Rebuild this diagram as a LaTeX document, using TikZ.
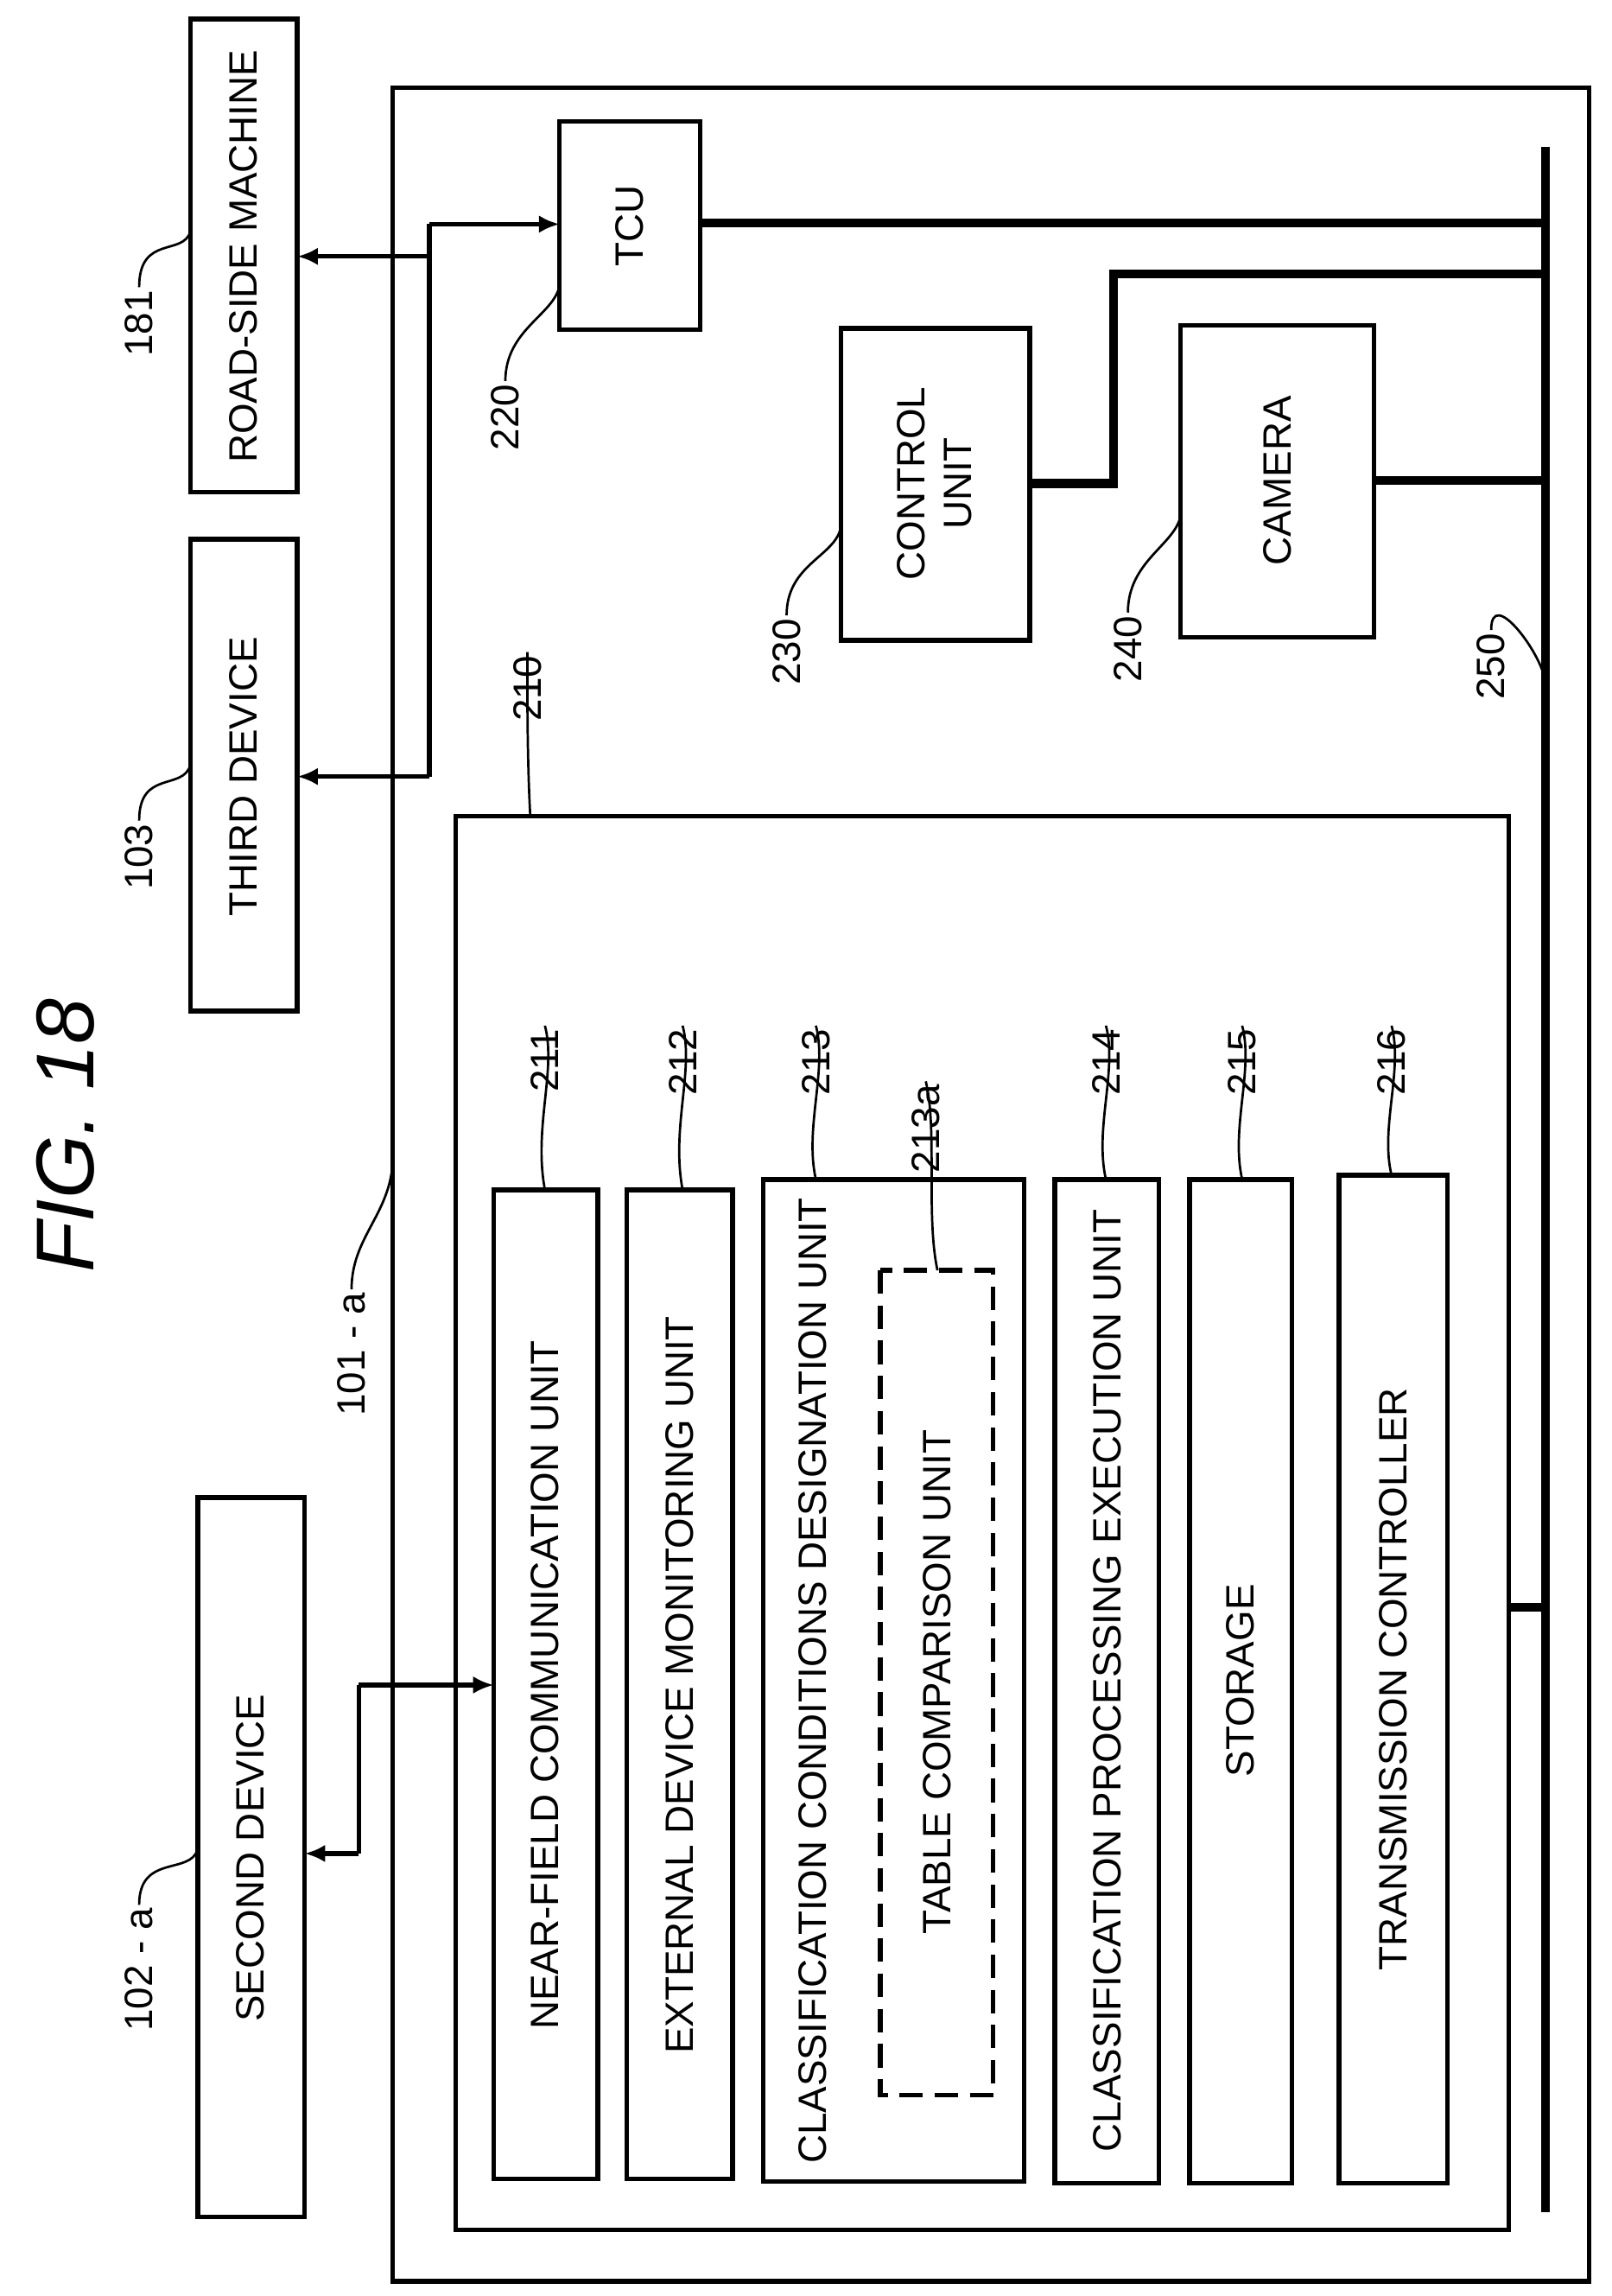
\documentclass[tikz,border=0pt]{standalone}
\usepackage{fontspec}
\setmainfont{Liberation Sans}
\usetikzlibrary{arrows.meta}
\begin{document}
\begin{tikzpicture}[x=0.5pt,y=-0.5pt,
 box/.style={draw,line width=1.6pt},
 txt/.style={rotate=90,font=\fontsize{13.5}{16}\selectfont,align=center,inner sep=0},
 lbl/.style={rotate=90,font=\fontsize{13.5}{16}\selectfont,inner sep=1pt},
 lead/.style={line width=0.8pt},
 bus/.style={line width=3pt},
 arr/.style={line width=1.6pt,-{Latex[length=7pt,width=6pt]}}]
\useasboundingbox (0,0) rectangle (1100,1567);
\node[rotate=90,font=\fontsize{28}{32}\selectfont\itshape] (fig) at (45,775) {FIG. 18};
% outer boxes
\draw[box] (268,60) rectangle (1085,1557);
\draw[box] (311,557) rectangle (1030,1522);
% external devices
\draw[box] (130,13) rectangle (203,336); \node[txt] (rsm) at (166,175) {ROAD-SIDE MACHINE};
\draw[box] (130,368) rectangle (203,690); \node[txt] (td) at (166,530) {THIRD DEVICE};
\draw[box] (135,1022) rectangle (208,1513); \node[txt] (sd) at (171,1268) {SECOND DEVICE};
% TCU etc
\draw[box] (382,83) rectangle (478,225); \node[txt] (tcu) at (430,154) {TCU};
\draw[box] (574,224) rectangle (703,437); \node[txt] (cu) at (638,330) {CONTROL\\UNIT};
\draw[box] (806,222) rectangle (938,435); \node[txt] (cam) at (872,328) {CAMERA};
% bus
\draw[bus] (1055,100) -- (1055,1510);
\draw[bus] (478,152) -- (1055,152);
\draw[bus] (703,330) -- (760,330) -- (760,187) -- (1055,187);
\draw[bus] (938,328) -- (1055,328);
\draw[bus] (1030,1097) -- (1055,1097);
% units
\draw[box] (337,812) rectangle (408,1487); \node[txt] (u211) at (372,1150) {NEAR-FIELD COMMUNICATION UNIT};
\draw[box] (428,812) rectangle (500,1487); \node[txt] (u212) at (464,1150) {EXTERNAL DEVICE MONITORING UNIT};
\draw[box] (521,805) rectangle (699,1489); \node[txt] (u213) at (555,1147) {CLASSIFICATION CONDITIONS DESIGNATION UNIT};
\draw[box,dashed,dash pattern=on 8pt off 4pt] (601,867) rectangle (678,1430); \node[txt] (u213a) at (640,1148) {TABLE COMPARISON UNIT};
\draw[box] (720,805) rectangle (791,1490); \node[txt] (u214) at (756,1147) {CLASSIFICATION PROCESSING EXECUTION UNIT};
\draw[box] (812,805) rectangle (882,1490); \node[txt] (u215) at (847,1147) {STORAGE};
\draw[box] (914,802) rectangle (988,1490); \node[txt] (u216) at (951,1146) {TRANSMISSION CONTROLLER};
% arrows
\coordinate (j1) at (293,153); \coordinate (j2) at (293,530);
\draw[line width=1.6pt] (j1) -- (j2);
\draw[arr] (j1) -- (382,153);
\draw[arr] (293,175) -- (203,175);
\draw[arr] (j2) -- (203,530);
\draw[line width=1.6pt] (245,1150) -- (245,1265);
\draw[arr] (245,1150) -- (337,1150);
\draw[arr] (245,1265) -- (208,1265);
% labels
\node[lbl,anchor=east] (l181) at (95,196) {181};
\draw[lead] (95,196) .. controls (95,160) and (125,175) .. (130,158);
\node[lbl,anchor=east] (l103) at (95,560) {103};
\draw[lead] (95,560) .. controls (95,525) and (125,540) .. (130,522);
\node[lbl,anchor=east] (l102) at (95,1300) {102 - a};
\draw[lead] (95,1300) .. controls (95,1265) and (130,1280) .. (135,1262);
\node[lbl,anchor=east] (l220) at (345,260) {220};
\draw[lead] (345,260) .. controls (345,225) and (378,215) .. (382,195);
\node[lbl,anchor=east] (l230) at (537,420) {230};
\draw[lead] (537,420) .. controls (537,385) and (570,380) .. (574,360);
\node[lbl,anchor=east] (l240) at (770,418) {240};
\draw[lead] (770,418) .. controls (770,383) and (802,372) .. (806,352);
\node[lbl,anchor=east] (l250) at (1018,430) {250};
\draw[lead] (1018,430) .. controls (1018,400) and (1052,445) .. (1055,465);
\node[lbl,anchor=east] (l210) at (360,445) {210};
\draw[lead] (360,445) .. controls (360,480) and (360,520) .. (362,557);
\node[lbl,anchor=east] (l101) at (240,880) {101 - a};
\draw[lead] (240,880) .. controls (240,845) and (265,830) .. (268,795);
\foreach \n/\x/\yy in {211/372/812,212/466/812,213/557/805,214/755/805,215/848/805,216/950/802}{
 \node[lbl,anchor=east] (l\n) at (\x,700) {\n};
 \draw[lead] (\x,700) .. controls (\x+8,730) and (\x-8,770) .. (\x,\yy);
}
\node[lbl,anchor=east] (l213a) at (632,738) {213a};
\draw[lead] (632,738) .. controls (640,770) and (632,830) .. (640,867);
\end{tikzpicture}
\end{document}
